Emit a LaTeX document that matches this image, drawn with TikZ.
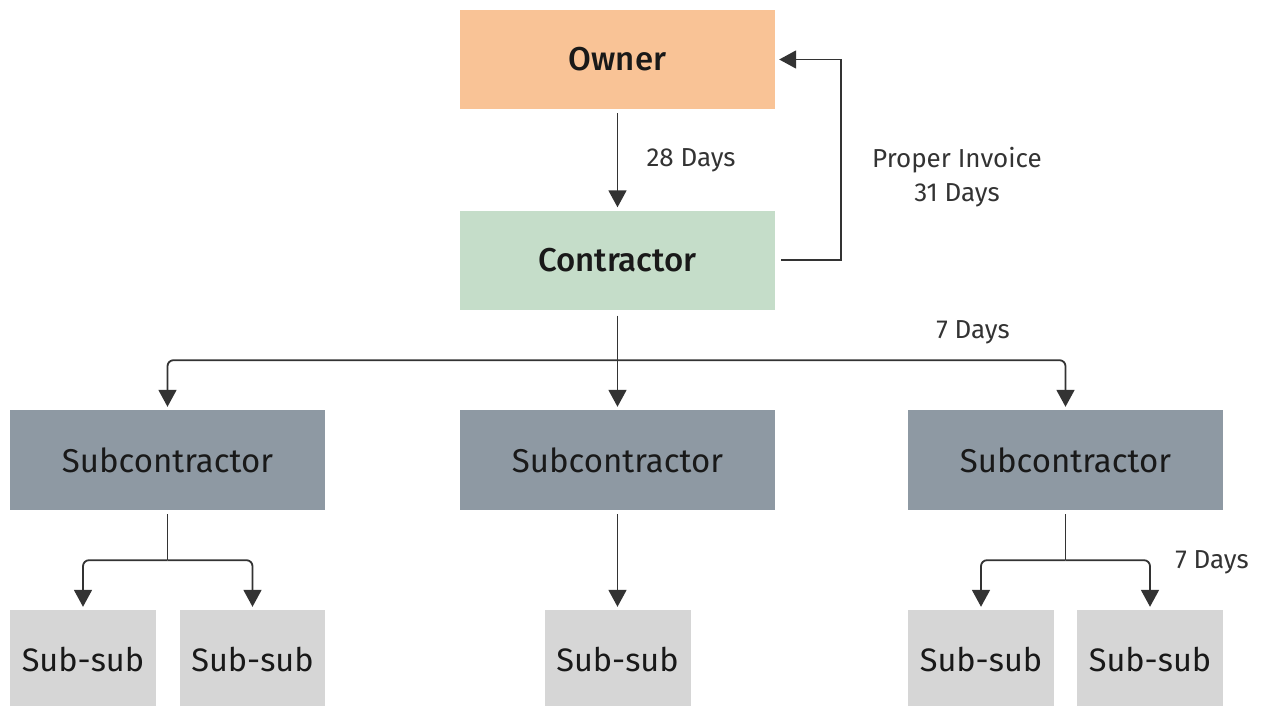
\documentclass[tikz,border=0pt]{standalone}
\usepackage{fontspec}
\setmainfont{Fira Sans}
\newfontfamily\medfont{Fira Sans}[UprightFont={* Medium}]
\usetikzlibrary{arrows.meta}
\definecolor{ownerc}{HTML}{F9C396}
\definecolor{contrc}{HTML}{C5DDC9}
\definecolor{subc}{HTML}{8E99A3}
\definecolor{subsubc}{HTML}{D6D6D6}
\definecolor{linec}{HTML}{333333}
\tikzset{
  box/.style={rectangle, inner sep=0pt, minimum width=315pt, minimum height=99pt, font=\fontsize{33}{38}\selectfont, text=black!90},
  topbox/.style={box, font=\fontsize{33}{38}\medfont},
  smallbox/.style={rectangle, inner sep=0pt, minimum width=146pt, minimum height=100pt, fill=subsubc, font=\fontsize{32.5}{38}\selectfont, text=black!90},
  arr/.style={draw=linec, line width=1.8pt, -{Triangle[width=18pt,length=17pt]}},
  wire/.style={draw=linec, line width=1.8pt},
  lbl/.style={text=linec, font=\fontsize{26}{34}\selectfont, align=center}
}
\begin{document}
\begin{tikzpicture}[x=1pt,y=-1pt]
\useasboundingbox (0,0) rectangle (1267,706);
% top level
\node[topbox, fill=ownerc] (owner) at (617.5,59.5) {Owner};
\node[topbox, fill=contrc] (contr) at (617.5,260) {Contractor};
% subcontractors
\node[box, fill=subc, minimum height=100pt] (subL) at (167.5,460) {Subcontractor};
\node[box, fill=subc, minimum height=100pt] (subM) at (617.5,460) {Subcontractor};
\node[box, fill=subc, minimum height=100pt] (subR) at (1065.5,460) {Subcontractor};
% sub-subcontractors
\node[smallbox] (ssL1) at (83,660) {Sub-sub};
\node[smallbox, minimum width=145pt] (ssL2) at (252.5,660) {Sub-sub};
\node[smallbox] (ssM) at (617.5,660) {Sub-sub};
\node[smallbox] (ssR1) at (981,660) {Sub-sub};
\node[smallbox] (ssR2) at (1150,660) {Sub-sub};
% junction points below each parent
\path (contr.south) ++(0,50.5) coordinate (jC);
\path (subL.south) ++(0,50) coordinate (jL);
\path (subR.south) ++(0,50) coordinate (jR);
% owner to contractor
\draw[arr, shorten <=4pt, shorten >=3pt] (owner) -- (contr);
\node[lbl, anchor=west] (l28) at (643,160) {28 Days};
% invoice back to owner
\draw[arr] ([xshift=6pt]contr.east) -- ++(60,0) |- ([xshift=4pt]owner.east);
\node[lbl] (linv) at (957,177) {Proper Invoice\\31 Days};
% contractor to subcontractors
\draw[wire, shorten <=6pt] (contr.south) -- (jC);
\draw[arr, rounded corners=6pt, shorten >=3pt] (jC) -| (subL.north);
\draw[arr, shorten >=3pt] (jC) -- (subM.north);
\draw[arr, rounded corners=6pt, shorten >=3pt] (jC) -| (subR.north);
\node[lbl] (l7a) at (973,332) {7 Days};
% subcontractors to sub-subs
\draw[wire, shorten <=4pt] (subL.south) -- (jL);
\draw[arr, rounded corners=6pt, shorten >=3pt] (jL) -| (ssL1.north);
\draw[arr, rounded corners=6pt, shorten >=3pt] (jL) -| (ssL2.north);
\draw[arr, shorten <=4pt, shorten >=3pt] (subM.south) -- (ssM.north);
\draw[wire, shorten <=4pt] (subR.south) -- (jR);
\draw[arr, rounded corners=6pt, shorten >=3pt] (jR) -| (ssR1.north);
\draw[arr, rounded corners=6pt, shorten >=3pt] (jR) -| (ssR2.north);
\node[lbl] (l7b) at (1212,562) {7 Days};
\end{tikzpicture}
\end{document}
